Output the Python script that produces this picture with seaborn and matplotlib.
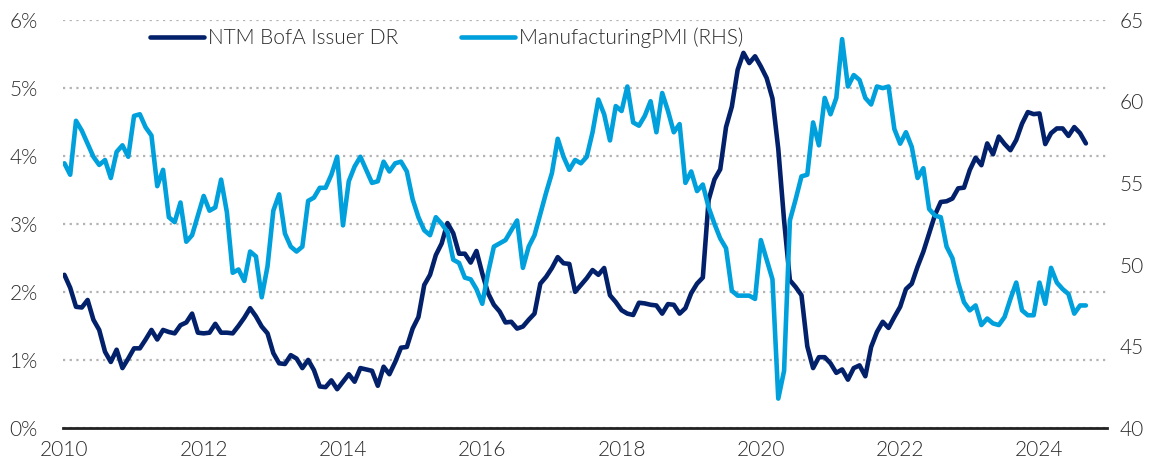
import matplotlib
matplotlib.use("Agg")
import matplotlib.pyplot as plt
import matplotlib.ticker as mticker
import numpy as np
import pandas as pd
import seaborn as sns

# monthly, Jan 2010 .. Sep 2024
default_rate = [
    2.25, 2.06, 1.78, 1.77, 1.88, 1.59, 1.44, 1.12, 0.97, 1.15, 0.88, 1.02,
    1.17, 1.17, 1.30, 1.44, 1.30, 1.44, 1.41, 1.39, 1.51, 1.55, 1.68, 1.40,
    1.39, 1.40, 1.53, 1.40, 1.40, 1.39, 1.50, 1.62, 1.76, 1.64, 1.49, 1.39,
    1.10, 0.95, 0.94, 1.07, 1.02, 0.88, 1.00, 0.85, 0.61, 0.60, 0.70, 0.57,
    0.68, 0.79, 0.68, 0.88, 0.86, 0.84, 0.62, 0.90, 0.79, 0.97, 1.18, 1.19,
    1.46, 1.63, 2.10, 2.25, 2.54, 2.71, 3.01, 2.86, 2.56, 2.56, 2.43, 2.60,
    2.27, 1.98, 1.81, 1.71, 1.55, 1.56, 1.46, 1.49, 1.59, 1.68, 2.12, 2.22,
    2.35, 2.51, 2.42, 2.41, 2.00, 2.10, 2.20, 2.32, 2.25, 2.35, 1.95, 1.85,
    1.73, 1.68, 1.66, 1.84, 1.83, 1.81, 1.80, 1.68, 1.82, 1.81, 1.68, 1.76,
    1.98, 2.12, 2.21, 3.35, 3.65, 3.80, 4.42, 4.72, 5.26, 5.51, 5.36, 5.46,
    5.31, 5.14, 4.84, 4.10, 3.05, 2.17, 2.07, 1.95, 1.20, 0.88, 1.04, 1.04,
    0.95, 0.81, 0.86, 0.71, 0.88, 0.92, 0.76, 1.19, 1.41, 1.56, 1.47, 1.63,
    1.78, 2.04, 2.12, 2.37, 2.59, 2.86, 3.13, 3.32, 3.33, 3.37, 3.52, 3.53,
    3.79, 3.97, 3.86, 4.18, 4.02, 4.28, 4.17, 4.08, 4.23, 4.47, 4.64, 4.61,
    4.62, 4.17, 4.33, 4.40, 4.40, 4.29, 4.42, 4.33, 4.18,
]

pmi = [
    56.2, 55.5, 58.8, 58.2, 57.4, 56.6, 56.1, 56.4, 55.3, 56.9, 57.3, 56.6,
    59.1, 59.2, 58.4, 57.9, 54.8, 55.8, 52.9, 52.6, 53.8, 51.4, 51.8, 53.0,
    54.2, 53.3, 53.5, 55.2, 53.2, 49.5, 49.7, 49.0, 50.8, 50.5, 48.0, 49.9,
    53.3, 54.3, 51.9, 51.1, 50.8, 51.1, 53.9, 54.1, 54.7, 54.7, 55.5, 56.6,
    52.4, 55.1, 56.0, 56.6, 55.8, 55.0, 55.1, 56.3, 55.7, 56.2, 56.3, 55.7,
    54.0, 52.9, 52.1, 51.8, 52.9, 52.5, 52.0, 50.3, 50.1, 49.2, 49.1, 48.5,
    47.6, 49.5, 51.1, 51.3, 51.5, 52.1, 52.7, 49.8, 51.1, 51.8, 53.1, 54.4,
    55.6, 57.7, 56.6, 55.8, 56.4, 56.2, 56.6, 58.1, 60.1, 59.2, 57.6, 59.7,
    59.4, 60.9, 58.7, 58.5, 59.1, 60.0, 58.1, 60.5, 59.4, 58.1, 58.6, 55.0,
    55.7, 54.5, 54.9, 53.5, 52.5, 51.6, 51.0, 48.4, 48.1, 48.1, 48.1, 47.9,
    51.5, 50.3, 49.1, 41.8, 43.5, 52.7, 54.0, 55.4, 55.5, 58.7, 57.3, 60.2,
    59.2, 60.2, 63.8, 60.9, 61.6, 61.3, 60.2, 59.8, 60.9, 60.8, 60.9, 58.3,
    57.4, 58.1, 57.2, 55.3, 55.9, 53.4, 53.0, 52.9, 51.1, 50.4, 48.9, 47.7,
    47.2, 47.5, 46.3, 46.7, 46.4, 46.3, 46.8, 47.9, 48.9, 47.2, 46.9, 46.9,
    48.9, 47.6, 49.8, 48.9, 48.5, 48.2, 47.0, 47.5, 47.5,
]

years = [2010, 2012, 2014, 2016, 2018, 2020, 2022, 2024]
left_ticks = [0, 1, 2, 3, 4, 5, 6]
right_ticks = [40, 45, 50, 55, 60, 65]

df = pd.DataFrame({
    "t": 2010 + np.arange(len(pmi)) / 12,
    "dr": default_rate,
    "pmi": pmi,
})

navy = "#03216b"
light = "#00a0dc"
txt = "#2b2b2b"

sns.set_style("white")
plt.rcParams["font.family"] = ["Lato", "DejaVu Sans"]

fig = plt.figure(figsize=(11.57, 4.72), dpi=100)
ax = fig.add_axes([63 / 1157, 1 - 428 / 472, (1107 - 63) / 1157, (428 - 19.5) / 472])
ax2 = ax.twinx()

sns.lineplot(data=df, x="t", y="dr", ax=ax, color=navy, linewidth=3.3,
             label="NTM BofA Issuer DR", legend=False)
sns.lineplot(data=df, x="t", y="pmi", ax=ax2, color=light, linewidth=3.3,
             label="ManufacturingPMI (RHS)", legend=False)

ax.set_xlim(2009.98, 2024.97)
ax.set_ylim(0, 6)
ax2.set_ylim(40, 65)

ax.set_xticks(years)
ax.set_xticklabels([str(y) for y in years])
ax.set_yticks(left_ticks)
ax.yaxis.set_major_formatter(mticker.FuncFormatter(lambda v, p: f"{int(v)}%"))
ax2.set_yticks(right_ticks)

ax.yaxis.grid(True, linestyle=(0, (1, 2)), color="#b3b3b3", linewidth=1.6)
ax.xaxis.grid(False)
ax2.grid(False)

for a in (ax, ax2):
    for s in ("top", "left", "right", "bottom"):
        a.spines[s].set_visible(False)
    a.set_xlabel("")
    a.set_ylabel("")
ax.spines["bottom"].set_visible(True)
ax.spines["bottom"].set_color("#222222")
ax.spines["bottom"].set_linewidth(2)

ax.tick_params(axis="x", length=0, pad=9, labelsize=15, labelcolor=txt)
ax.tick_params(axis="y", length=0, pad=18, labelsize=15, labelcolor=txt)
ax2.tick_params(axis="y", length=0, pad=9, labelsize=15, labelcolor=txt)
for lab in ax.get_xticklabels() + ax.get_yticklabels() + ax2.get_yticklabels():
    lab.set_fontweight(300)

h1, l1 = ax.get_legend_handles_labels()
h2, l2 = ax2.get_legend_handles_labels()
leg = ax2.legend(h1 + h2, l1 + l2, ncol=2, frameon=False, loc="center left",
                 bbox_to_anchor=(150 / 1157, 1 - 38 / 472),
                 bbox_transform=fig.transFigure, borderpad=0, borderaxespad=0,
                 handlelength=2.6, handletextpad=0.2, columnspacing=3.0,
                 prop={"size": 15, "weight": 300})
for t in leg.get_texts():
    t.set_color(txt)

fig.savefig("out.png", dpi=100)
